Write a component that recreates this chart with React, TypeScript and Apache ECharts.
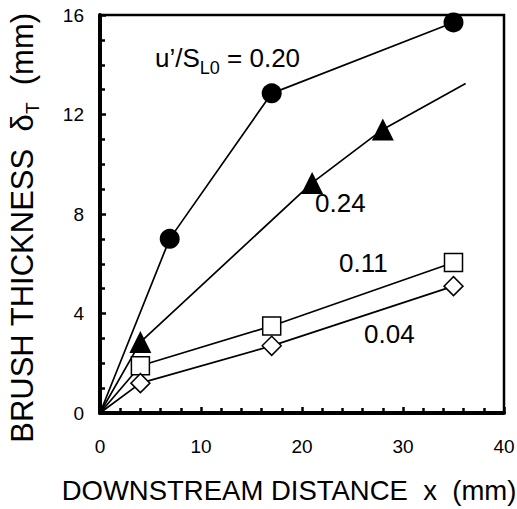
import React, { useEffect, useRef } from "react";
import * as echarts from "echarts";

const xTicks = { min: 0, max: 40, interval: 10 };
const yTicks = { min: 0, max: 16, interval: 4 };

const circleData: number[][] = [[0, 0], [6.9, 7.0], [17, 12.85], [35, 15.7]];
const triangleData: number[][] = [[0, 0], [4, 2.85], [21, 9.25], [28, 11.4], [36.2, 13.25]];
const squareData: number[][] = [[0, 0], [4, 1.9], [17, 3.5], [35, 6.05]];
const diamondData: number[][] = [[0, 0], [4, 1.2], [17, 2.7], [35, 5.1]];

const labelMain = "u’/S";
const labelSub = "L0";
const labelRest = " = 0.20";
const label024 = "0.24";
const label011 = "0.11";
const label004 = "0.04";

const xName = "DOWNSTREAM DISTANCE  x  (mm)";
const yNameA = "BRUSH THICKNESS  δ";
const yNameSub = "T";
const yNameB = "  (mm)";

const FONT = "'Liberation Sans', Arial, Helvetica, sans-serif";

function withHiddenEnds(data: number[][], hideLast: boolean) {
  return data.map((d, i) => {
    if (i === 0 || (hideLast && i === data.length - 1)) {
      return { value: d, symbol: "none" };
    }
    return { value: d };
  });
}

export default function App() {
  const ref = useRef<HTMLDivElement>(null);
  useEffect(() => {
    if (!ref.current) return;
    const chart = echarts.init(ref.current, undefined, { renderer: "svg" });
    const lineBase = {
      type: "line",
      lineStyle: { color: "#000", width: 1.7 },
      z: 3,
    };
    chart.setOption({
      animation: false,
      backgroundColor: "#fff",
      grid: {
        left: 100,
        right: 13,
        top: 15,
        bottom: 96,
        show: true,
        borderColor: "#000",
        borderWidth: 2.5,
        containLabel: false,
        outerBoundsMode: "none",
      },
      xAxis: {
        type: "value",
        min: xTicks.min,
        max: xTicks.max,
        interval: xTicks.interval,
        axisLine: { show: true, onZero: false, lineStyle: { color: "#000", width: 4 } },
        axisTick: { show: true, inside: true, length: 6, lineStyle: { color: "#000", width: 2.5 } },
        minorTick: { show: true, splitNumber: 5, length: 5, lineStyle: { color: "#000", width: 2.5 } },
        splitLine: { show: false },
        axisLabel: { color: "#000", fontSize: 19, fontFamily: FONT, margin: 24 },
      },
      yAxis: {
        type: "value",
        min: yTicks.min,
        max: yTicks.max,
        interval: yTicks.interval,
        axisLine: { show: true, onZero: false, lineStyle: { color: "#000", width: 4 } },
        axisTick: { show: true, inside: true, length: 6, lineStyle: { color: "#000", width: 2.5 } },
        minorTick: { show: true, splitNumber: 4, length: 5, lineStyle: { color: "#000", width: 2.5 } },
        splitLine: { show: false },
        axisLabel: { color: "#000", fontSize: 19, fontFamily: FONT, margin: 16 },
      },
      series: [
        {
          ...lineBase,
          name: "0.20",
          data: withHiddenEnds(circleData, false),
          symbol: "circle",
          symbolSize: 20,
          itemStyle: { color: "#000" },
        },
        {
          ...lineBase,
          name: "0.24",
          data: withHiddenEnds(triangleData, true),
          symbol: "triangle",
          symbolSize: [22, 22],
          itemStyle: { color: "#000" },
        },
        {
          ...lineBase,
          name: "0.11",
          data: withHiddenEnds(squareData, false),
          symbol: "rect",
          symbolSize: 18,
          itemStyle: { color: "#fff", borderColor: "#000", borderWidth: 1.5 },
        },
        {
          ...lineBase,
          name: "0.04",
          data: withHiddenEnds(diamondData, false),
          symbol: "diamond",
          symbolSize: 19,
          itemStyle: { color: "#fff", borderColor: "#000", borderWidth: 1.5 },
        },
      ],
      graphic: [
        {
          type: "text",
          x: 155,
          y: 39.5,
          z: 10,
          style: {
            text: `{m|${labelMain}}{s|${labelSub}}{m|${labelRest}}`,
            align: "left",
            verticalAlign: "top",
            rich: {
              m: { fontSize: 26, fontFamily: FONT, fill: "#000", lineHeight: 37, verticalAlign: "middle" },
              s: { fontSize: 18, fontFamily: FONT, fill: "#000", lineHeight: 18, verticalAlign: "bottom" },
            },
          },
        },
        {
          type: "text", x: 315, y: 203, z: 10,
          style: { text: label024, fontSize: 26, fontFamily: FONT, fill: "#000", align: "left", verticalAlign: "middle" },
        },
        {
          type: "text", x: 339, y: 263, z: 10,
          style: { text: label011, fontSize: 26, fontFamily: FONT, fill: "#000", align: "left", verticalAlign: "middle" },
        },
        {
          type: "text", x: 364, y: 334, z: 10,
          style: { text: label004, fontSize: 26, fontFamily: FONT, fill: "#000", align: "left", verticalAlign: "middle" },
        },
        {
          type: "text", x: 289, y: 490.5, z: 10,
          style: { text: xName, fontSize: 27.5, fontFamily: FONT, fill: "#000", align: "center", verticalAlign: "middle" },
        },
        {
          type: "text",
          x: 22,
          y: 228,
          rotation: Math.PI / 2,
          z: 10,
          style: {
            text: `{m|${yNameA}}{s|${yNameSub}}{m|${yNameB}}`,
            align: "center",
            verticalAlign: "middle",
            rich: {
              m: { fontSize: 31, fontFamily: FONT, fill: "#000", lineHeight: 40, verticalAlign: "middle" },
              s: { fontSize: 19, fontFamily: FONT, fill: "#000", lineHeight: 19, verticalAlign: "bottom" },
            },
          },
        },
      ],
    });
    return () => chart.dispose();
  }, []);
  return <div ref={ref} style={{ width: 517, height: 509, position: "absolute", left: 0, top: 0 }} />;
}
